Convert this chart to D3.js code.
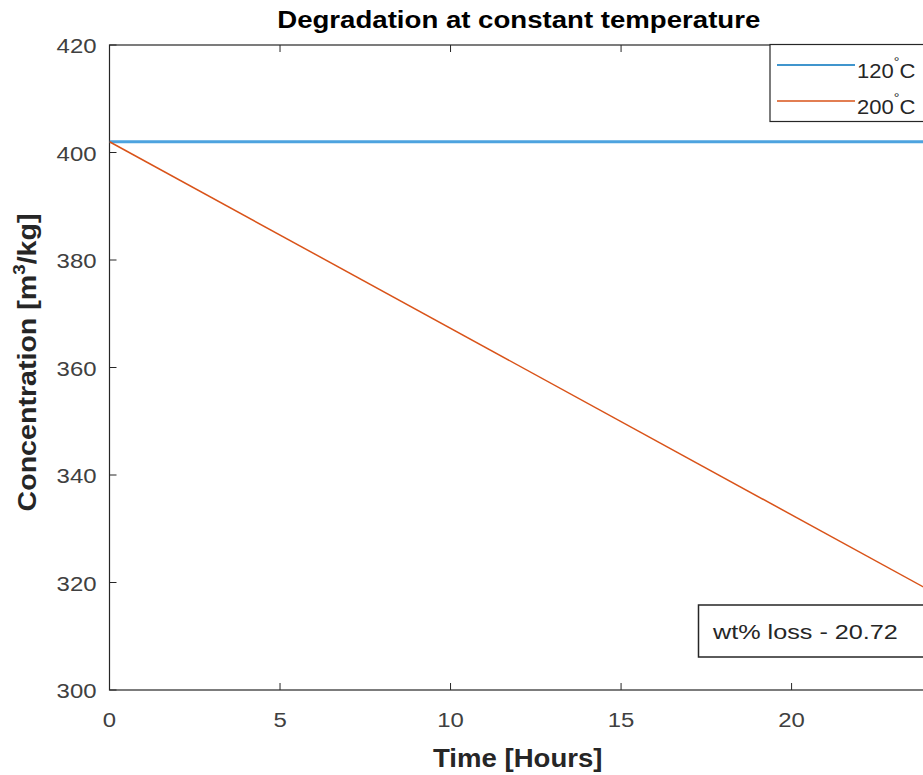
<!DOCTYPE html>
<html>
<head>
<meta charset="utf-8">
<script src="https://cdn.jsdelivr.net/npm/d3@7"></script>
<style>
  body { margin: 0; background: #fff; }
  text { font-family: "Liberation Sans", Arial, sans-serif; }
</style>
</head>
<body>
<div id="chart"></div>
<script>
const width = 923;
const height = 775;

// data
const timeHours = [0, 24];
const conc120 = [402, 402];
const conc200 = [402, 318.7];
const seriesNames = ["120", "200"];
const seriesColors = ["#0072BD", "#D95319"];
const xTicks = [0, 5, 10, 15, 20];
const yTicks = [300, 320, 340, 360, 380, 400, 420];
const lossLabel = "wt% loss - 20.72";

const margin = { left: 109.5, right: 928, top: 45, bottom: 690 };

const svg = d3.select("#chart")
    .append("svg")
    .attr("width", width)
    .attr("height", height);

const x = d3.scaleLinear().domain([0, 24]).range([margin.left, margin.right]);
const y = d3.scaleLinear().domain([300, 420]).range([margin.bottom, margin.top]);

const axisColor = "#262626";
const tickTextColor = "#404040";

// MATLAB's text renders wider than Liberation Sans; stretch along the baseline
function wideText(parent, px, py, sx, rotate) {
    const r = rotate ? ` rotate(${rotate})` : "";
    return parent.append("g")
        .attr("transform", `translate(${px},${py})${r} scale(${sx},1)`)
        .append("text");
}

// plot box
svg.append("rect")
    .attr("x", margin.left).attr("y", margin.top)
    .attr("width", margin.right - margin.left)
    .attr("height", margin.bottom - margin.top)
    .attr("fill", "#fff")
    .attr("stroke", axisColor)
    .attr("stroke-width", 1.2);

// ticks, drawn inward
const tickLen = 7;
svg.append("g").selectAll("line")
    .data(xTicks)
    .join("line")
    .attr("x1", d => x(d)).attr("x2", d => x(d))
    .attr("y1", margin.bottom).attr("y2", margin.bottom - tickLen)
    .attr("stroke", axisColor);
svg.append("g").selectAll("line")
    .data(xTicks)
    .join("line")
    .attr("x1", d => x(d)).attr("x2", d => x(d))
    .attr("y1", margin.top).attr("y2", margin.top + tickLen)
    .attr("stroke", axisColor);
svg.append("g").selectAll("line")
    .data(yTicks)
    .join("line")
    .attr("x1", margin.left).attr("x2", margin.left + tickLen)
    .attr("y1", d => y(d)).attr("y2", d => y(d))
    .attr("stroke", axisColor);

// tick labels
const tickStretch = 1.14;
xTicks.forEach(d => {
    wideText(svg, x(d), 727, tickStretch)
        .attr("text-anchor", "middle")
        .attr("font-size", 21)
        .attr("fill", tickTextColor)
        .text(d);
});
yTicks.forEach(d => {
    wideText(svg, margin.left - 13, y(d) + 8, tickStretch)
        .attr("text-anchor", "end")
        .attr("font-size", 21)
        .attr("fill", tickTextColor)
        .text(d);
});

// lines
const line = d3.line()
    .x((d, i) => x(timeHours[i]))
    .y(d => y(d));

svg.append("clipPath").attr("id", "clip")
    .append("rect")
    .attr("x", margin.left).attr("y", margin.top)
    .attr("width", margin.right - margin.left)
    .attr("height", margin.bottom - margin.top);

svg.append("path")
    .datum(conc120)
    .attr("d", line)
    .attr("fill", "none")
    .attr("stroke", "#4DA3DF")
    .attr("stroke-width", 3)
    .attr("clip-path", "url(#clip)");

svg.append("path")
    .datum(conc200)
    .attr("d", line)
    .attr("fill", "none")
    .attr("stroke", seriesColors[1])
    .attr("stroke-width", 1.5)
    .attr("clip-path", "url(#clip)");

// title & axis labels
wideText(svg, (margin.left + margin.right) / 2, 28, 1.15)
    .attr("text-anchor", "middle")
    .attr("font-size", 24)
    .attr("font-weight", "bold")
    .attr("fill", "#000")
    .text("Degradation at constant temperature");

wideText(svg, (margin.left + margin.right) / 2 - 1, 767, 1.06)
    .attr("text-anchor", "middle")
    .attr("font-size", 26)
    .attr("font-weight", "bold")
    .attr("fill", "#262626")
    .text("Time [Hours]");

const yLab = wideText(svg, 36, (margin.top + margin.bottom) / 2 - 5, 1.1, -90)
    .attr("text-anchor", "middle")
    .attr("font-size", 26)
    .attr("font-weight", "bold")
    .attr("fill", "#262626");
yLab.append("tspan").text("Concentration [m");
yLab.append("tspan").attr("dy", -11).attr("font-size", 17).text("3");
yLab.append("tspan").attr("dy", 11).text("/kg]");

// legend
const legend = svg.append("g");
legend.append("rect")
    .attr("x", 770).attr("y", 44.5)
    .attr("width", 170).attr("height", 77)
    .attr("fill", "#fff")
    .attr("stroke", axisColor)
    .attr("stroke-width", 1.2);

const rowY = [65, 101];
seriesNames.forEach((name, i) => {
    legend.append("line")
        .attr("x1", 777).attr("x2", 855)
        .attr("y1", rowY[i]).attr("y2", rowY[i])
        .attr("stroke", seriesColors[i])
        .attr("stroke-width", 1.5);
    const t = wideText(legend, 857, rowY[i] + 13, 1.1)
        .attr("font-size", 20)
        .attr("fill", "#262626");
    t.append("tspan").text(name);
    t.append("tspan").attr("dy", -12).attr("font-size", 13).text("\u00B0");
    t.append("tspan").attr("dy", 12).text("C");
});

// annotation box
svg.append("rect")
    .attr("x", 698.5).attr("y", 605)
    .attr("width", 260).attr("height", 52)
    .attr("fill", "#fff")
    .attr("stroke", axisColor)
    .attr("stroke-width", 1.5);
wideText(svg, 713, 639, 1.2)
    .attr("font-size", 21)
    .attr("fill", "#262626")
    .text(lossLabel);
</script>
</body>
</html>
